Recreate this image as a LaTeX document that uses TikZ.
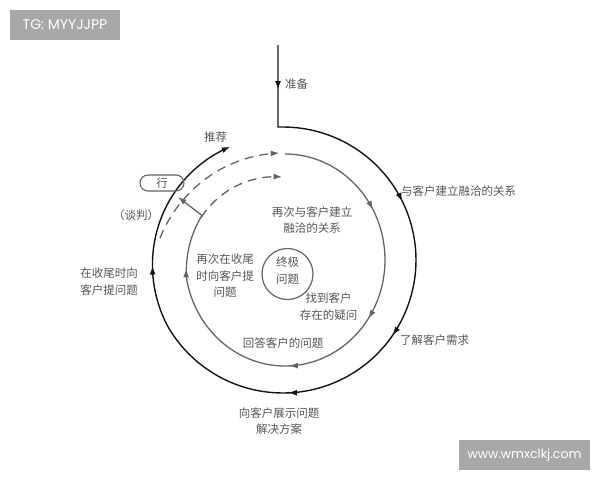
\documentclass[tikz,border=0pt]{standalone}
\usepackage{fontspec}
\setmainfont{Noto Sans CJK SC}
\newfontfamily\tagfont{Poppins}
\usepackage{xcolor}
\definecolor{ink}{RGB}{20,20,20}
\definecolor{loopgray}{RGB}{100,100,100}
\definecolor{labelgray}{RGB}{85,85,85}
\definecolor{tagbg}{RGB}{168,168,168}
\usetikzlibrary{arrows.meta}
\usetikzlibrary{decorations.markings}
\usetikzlibrary{positioning}

\tikzset{
	lbl/.style={text=labelgray, font=\fontsize{11.5}{16.5}\selectfont, align=center, inner sep=0pt},
	blackline/.style={draw=ink, line width=1.4pt},
	grayline/.style={draw=loopgray, line width=1.3pt},
	dashline/.style={draw=loopgray, line width=1.3pt, dash pattern=on 9pt off 6pt},
	midtips/.style={postaction={decorate, decoration={markings, mark=at position #1 with {\arrow{>}}}}},
	pill/.style={draw=loopgray, line width=1.1pt, rounded corners=8pt, minimum width=44pt, minimum height=16pt, inner sep=0pt},
	tagbox/.style={fill=tagbg, text=white, font=\tagfont\fontsize{14}{16}\selectfont, minimum height=30pt, inner sep=0pt}
}

\begin{document}
\begin{tikzpicture}[x=1pt, y=-1pt, >={Latex[length=8.5pt, width=6pt]},
		declare function={
			ro(\t) = 133 - 8*max(0,\t-150)/95;
			rd(\t) = 107 + 18*((268-\t)/78)^2;
			si(\t) = 1 - 0.07*max(0,\t-170)/37;
			ri(\t) = 94 - 11*(\t-207)/61;
		}]
		\useasboundingbox (0,0) rectangle (600,480);
		
		%outer loop
		\draw[blackline, ->, midtips/.list={0.052,0.274,0.438,0.582,0.824}]
			(278,45) -- (278,127) -- plot[domain=-90:245, samples=150] ({283+ro(\x)*cos(\x)}, {260+ro(\x)*sin(\x)});
		
		%inner loop
		\draw[grayline, midtips/.list={0.205,0.419,0.599,0.894}]
			plot[domain=-90:207, samples=120] ({285+100*si(\x)*cos(\x)}, {260+106*si(\x)*sin(\x)});
		\coordinate (junction) at (202,215.5);
		\coordinate (pillfoot) at (178,197);
		
		%dashed returns
		\draw[dashline, ->] plot[domain=190:268, samples=40] ({283+rd(\x)*cos(\x)}, {260+rd(\x)*sin(\x)});
		\draw[dashline, ->] plot[domain=207:268, samples=30] ({285+ri(\x)*cos(\x)}, {260+ri(\x)*sin(\x)});
		\draw[grayline, ->] (junction) -- (pillfoot);
		
		%centre
		\node[circle, draw=loopgray, line width=1.2pt, minimum size=51pt, inner sep=0pt] (core) at (287.5,274) {};
		\node[lbl] (coretext) at (287.5,270.5) {终极\\问题};
		\node[pill, lbl] (xing) at (162,183) {行};
		
		%outer labels
		\node[lbl, anchor=west] (prep) at (285,84) {准备};
		\node[lbl] (recommend) at (215.5,137) {推荐};
		\node[lbl, anchor=west] (rapport) at (401,191) {与客户建立融洽的关系};
		\node[lbl, anchor=west] (needs) at (400,340) {了解客户需求};
		\node[lbl] (present) at (279,421) {向客户展示问题\\解决方案};
		\node[lbl] (closeask) at (109,281.5) {在收尾时向\\客户提问题};
		\node[lbl] (negotiate) at (136,215) {（谈判）};
		
		%inner labels
		\node[lbl] (rapportagain) at (312,220) {再次与客户建立\\融洽的关系};
		\node[lbl] (closeagain) at (225,276) {再次在收尾\\时向客户提\\问题};
		\node[lbl] (doubts) at (328.5,306.5) {找到客户\\存在的疑问};
		\node[lbl] (answer) at (283,343) {回答客户的问题};
		
		%tags
		\node[tagbox, minimum width=110pt] (tg) at (65,25) {TG: MYYJJPP};
		\node[tagbox, minimum width=131pt, font=\tagfont\fontsize{12.5}{15}\selectfont] (site) at (524.5,455) {www.wmxclkj.com};
	\end{tikzpicture}
\end{document}
